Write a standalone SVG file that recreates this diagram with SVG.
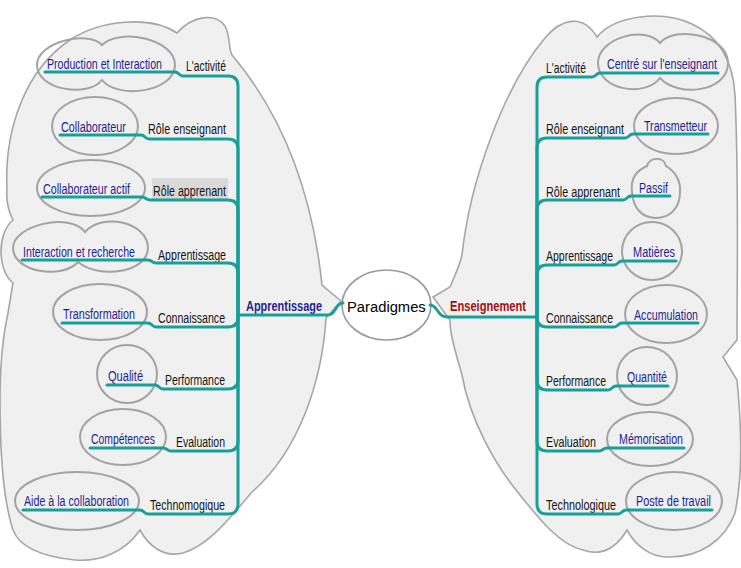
<svg xmlns="http://www.w3.org/2000/svg" width="741" height="568" viewBox="0 0 741 568">
<style>
.cloud{fill:#f0f0f0;stroke:#a6a6a6;stroke-width:1.6}
.bub{fill:none;stroke:#a3a3a3;stroke-width:2}
.ln{fill:none;stroke:#17a09a;stroke-width:3;stroke-linecap:round;stroke-linejoin:round}
text{font-family:"Liberation Sans",Arial,sans-serif;font-size:15px}
.v{fill:#1f1f8f}
.k{fill:#151515}
.hub{font-weight:bold}
</style>
<rect width="741" height="568" fill="#ffffff"/>
<g id="clouds">
<path class="cloud" d="M 7,190 C 4,130 25,70 70,40 C 100,20 150,15 177,33 C 192,16 215,12 225,26 C 231,38 228,48 232,55 C 270,100 310,170 322,285 L 341,301 L 326,318 C 322,380 300,450 252,492 C 232,515 210,545 183,553 C 163,558 148,545 140,530 C 125,552 100,562 75,560 C 45,557 20,548 13,530 C 3,500 0,450 0,400 C 0,370 2,340 8,313 L 13,283 C -3,270 -3,233 13,220 C 8,210 6,200 7,190 Z"/>
<path class="cloud" d="M 462,255 C 470,180 505,85 545,38 C 560,20 582,12 597,37 C 615,15 662,10 692,24 C 718,36 733,60 735,95 C 739,180 737,270 737,340 L 723,357 L 737,380 C 742,430 742,480 735,513 C 725,540 700,558 667,557 C 650,557 635,545 627,530 C 615,550 600,556 583,550 C 560,545 540,520 520,495 C 495,465 470,420 462,375 C 455,350 450,335 450,320 L 433,297 L 450,287 C 455,275 460,265 462,255 Z"/>
</g>
<g id="center">
<ellipse cx="386.5" cy="305" rx="44.5" ry="35" fill="#ffffff" stroke="#9a9a9a" stroke-width="1.6"/>
<text transform="translate(347 312) scale(.75 1)" font-size="20" textLength="105" lengthAdjust="spacingAndGlyphs" fill="#000">Paradigmes</text>
</g>
<g id="hub-apprentissage"><text class="v hub" transform="translate(246 311) scale(.76 1)" font-size="14" textLength="100" lengthAdjust="spacingAndGlyphs">Apprentissage</text></g>
<g id="hub-enseignement"><text class="hub" transform="translate(450 311) scale(.76 1)" font-size="14" fill="#a01010" textLength="100" lengthAdjust="spacingAndGlyphs">Enseignement</text></g>

<!-- Left labels -->
<g id="L1"><text class="k" transform="translate(186 71) scale(.76 1)" textLength="52.6" lengthAdjust="spacingAndGlyphs">L'activité</text></g>
<g id="L2"><text class="k" transform="translate(148 134) scale(.76 1)" textLength="102.6" lengthAdjust="spacingAndGlyphs">Rôle enseignant</text></g>
<g id="L3"><rect x="152" y="178" width="76" height="21" fill="#d9d9d9"/><text class="k" transform="translate(153 196) scale(.76 1)" textLength="96.1" lengthAdjust="spacingAndGlyphs">Rôle apprenant</text></g>
<g id="L4"><text class="k" transform="translate(158 260) scale(.76 1)" textLength="89.5" lengthAdjust="spacingAndGlyphs">Apprentissage</text></g>
<g id="L5"><text class="k" transform="translate(158 323) scale(.76 1)" textLength="88.2" lengthAdjust="spacingAndGlyphs">Connaissance</text></g>
<g id="L6"><text class="k" transform="translate(165 385) scale(.76 1)" textLength="78.9" lengthAdjust="spacingAndGlyphs">Performance</text></g>
<g id="L7"><text class="k" transform="translate(176 447) scale(.76 1)" textLength="64.5" lengthAdjust="spacingAndGlyphs">Evaluation</text></g>
<g id="L8"><text class="k" transform="translate(150 510) scale(.76 1)" textLength="98.7" lengthAdjust="spacingAndGlyphs">Technomogique</text></g>

<!-- Left values -->
<g id="LV1"><path class="bub" d="M 37,65 C 37,42 88,30 102,45 C 118,28 175,38 175,65 C 175,92 118,100 102,80 C 88,98 37,90 37,65 Z"/><text class="v" transform="translate(47 69) scale(.76 1)" textLength="151.3" lengthAdjust="spacingAndGlyphs">Production et Interaction</text></g>
<g id="LV2"><ellipse class="bub" cx="95" cy="126" rx="43" ry="29"/><text class="v" transform="translate(61 132) scale(.76 1)" textLength="85.5" lengthAdjust="spacingAndGlyphs">Collaborateur</text></g>
<g id="LV3"><ellipse class="bub" cx="91" cy="188" rx="54" ry="28"/><text class="v" transform="translate(43 194) scale(.76 1)" textLength="114.5" lengthAdjust="spacingAndGlyphs">Collaborateur actif</text></g>
<g id="LV4"><path class="bub" d="M 13,248 C 13,225 70,212 85,232 C 102,212 148,222 148,248 C 148,272 100,280 78,262 C 62,280 13,272 13,248 Z"/><text class="v" transform="translate(23 257) scale(.76 1)" textLength="147.4" lengthAdjust="spacingAndGlyphs">Interaction et recherche</text></g>
<g id="LV5"><ellipse class="bub" cx="100" cy="312" rx="47" ry="28"/><text class="v" transform="translate(63 319) scale(.76 1)" textLength="94.7" lengthAdjust="spacingAndGlyphs">Transformation</text></g>
<g id="LV6"><ellipse class="bub" cx="127" cy="374" rx="30" ry="29"/><text class="v" transform="translate(108 381) scale(.76 1)" textLength="46.1" lengthAdjust="spacingAndGlyphs">Qualité</text></g>
<g id="LV7"><ellipse class="bub" cx="123" cy="437" rx="43" ry="28"/><text class="v" transform="translate(91 444) scale(.76 1)" textLength="84.2" lengthAdjust="spacingAndGlyphs">Compétences</text></g>
<g id="LV8"><ellipse class="bub" cx="77" cy="501" rx="62" ry="29"/><text class="v" transform="translate(24 506) scale(.76 1)" textLength="138.2" lengthAdjust="spacingAndGlyphs">Aide à la collaboration</text></g>

<!-- Right labels -->
<g id="R1"><text class="k" transform="translate(546 73) scale(.76 1)" textLength="52.6" lengthAdjust="spacingAndGlyphs">L'activité</text></g>
<g id="R2"><text class="k" transform="translate(546 134) scale(.76 1)" textLength="102.6" lengthAdjust="spacingAndGlyphs">Rôle enseignant</text></g>
<g id="R3"><text class="k" transform="translate(546 197) scale(.76 1)" textLength="97.4" lengthAdjust="spacingAndGlyphs">Rôle apprenant</text></g>
<g id="R4"><text class="k" transform="translate(546 261) scale(.76 1)" textLength="88.2" lengthAdjust="spacingAndGlyphs">Apprentissage</text></g>
<g id="R5"><text class="k" transform="translate(546 323) scale(.76 1)" textLength="88.2" lengthAdjust="spacingAndGlyphs">Connaissance</text></g>
<g id="R6"><text class="k" transform="translate(546 386) scale(.76 1)" textLength="78.9" lengthAdjust="spacingAndGlyphs">Performance</text></g>
<g id="R7"><text class="k" transform="translate(546 447) scale(.76 1)" textLength="65.8" lengthAdjust="spacingAndGlyphs">Evaluation</text></g>
<g id="R8"><text class="k" transform="translate(546 510) scale(.76 1)" textLength="92.1" lengthAdjust="spacingAndGlyphs">Technologique</text></g>

<!-- Right values -->
<g id="RV1"><path class="bub" d="M 598,63 C 598,38 645,25 660,43 C 675,25 728,35 728,63 C 728,92 678,98 660,78 C 645,98 598,90 598,63 Z"/><text class="v" transform="translate(607 69) scale(.76 1)" textLength="144.7" lengthAdjust="spacingAndGlyphs">Centré sur l'enseignant</text></g>
<g id="RV2"><ellipse class="bub" cx="676" cy="126" rx="42" ry="28"/><text class="v" transform="translate(644 131) scale(.76 1)" textLength="82.9" lengthAdjust="spacingAndGlyphs">Transmetteur</text></g>
<g id="RV3"><path class="bub" d="M 632,192 C 630,176 640,169 647,166 C 649,157 664,156 666,166 C 676,172 681,182 680,192 C 680,210 668,218 656,218 C 642,218 633,208 632,192 Z"/><text class="v" transform="translate(639 193) scale(.76 1)" textLength="38.2" lengthAdjust="spacingAndGlyphs">Passif</text></g>
<g id="RV4"><ellipse class="bub" cx="652" cy="251" rx="30" ry="29"/><text class="v" transform="translate(633 257) scale(.76 1)" textLength="55.3" lengthAdjust="spacingAndGlyphs">Matières</text></g>
<g id="RV5"><ellipse class="bub" cx="666" cy="314" rx="41" ry="29"/><text class="v" transform="translate(634 320) scale(.76 1)" textLength="84.2" lengthAdjust="spacingAndGlyphs">Accumulation</text></g>
<g id="RV6"><ellipse class="bub" cx="647" cy="376" rx="30" ry="29"/><text class="v" transform="translate(627 382) scale(.76 1)" textLength="52.6" lengthAdjust="spacingAndGlyphs">Quantité</text></g>
<g id="RV7"><ellipse class="bub" cx="650" cy="439" rx="43" ry="27"/><text class="v" transform="translate(619 444) scale(.76 1)" textLength="84.2" lengthAdjust="spacingAndGlyphs">Mémorisation</text></g>
<g id="RV8"><ellipse class="bub" cx="674" cy="501" rx="48" ry="29"/><text class="v" transform="translate(636 506) scale(.76 1)" textLength="98.7" lengthAdjust="spacingAndGlyphs">Poste de travail</text></g>

<g id="connectors">
<path class="ln" d="M 238,315 H 328 C 336,315 335,303 343,303"/>
<path class="ln" d="M 430,305 C 438,305 437,317 447,317 H 537"/>
<path class="ln" d="M 45,72 H 175 C 179,72 179,76 183,76 H 228 Q 238,76 238,86 V 315"/>
<path class="ln" d="M 60,135 H 141 C 145,135 145,139 149,139 H 228 Q 238,139 238,149 V 315"/>
<path class="ln" d="M 42,197 H 142 C 146,197 146,200 150,200 H 228 Q 238,200 238,210 V 315"/>
<path class="ln" d="M 22,260 H 148 C 152,260 152,263 156,263 H 228 Q 238,263 238,273 V 315"/>
<path class="ln" d="M 62,323 H 148 C 152,323 152,327 156,327 H 228 Q 238,327 238,317 V 315"/>
<path class="ln" d="M 107,385 H 155 C 159,385 159,389 163,389 H 228 Q 238,389 238,379 V 315"/>
<path class="ln" d="M 90,448 H 163 C 167,448 167,451 171,451 H 228 Q 238,451 238,441 V 315"/>
<path class="ln" d="M 23,510 H 140 C 144,510 144,514 148,514 H 228 Q 238,514 238,504 V 315"/>
<path class="ln" d="M 718,73 H 600 C 596,73 596,77 592,77 H 547 Q 537,77 537,87 V 317"/>
<path class="ln" d="M 708,134 H 633 C 629,134 629,138 625,138 H 547 Q 537,138 537,148 V 317"/>
<path class="ln" d="M 670,196 H 631 C 627,196 627,200 623,200 H 547 Q 537,200 537,210 V 317"/>
<path class="ln" d="M 676,261 H 622 C 618,261 618,265 614,265 H 547 Q 537,265 537,275 V 317"/>
<path class="ln" d="M 698,323 H 622 C 618,323 618,327 614,327 H 547 Q 537,327 537,317"/>
<path class="ln" d="M 668,386 H 616 C 612,386 612,390 608,390 H 547 Q 537,390 537,380 V 317"/>
<path class="ln" d="M 684,448 H 607 C 603,448 603,451 599,451 H 547 Q 537,451 537,441 V 317"/>
<path class="ln" d="M 712,510 H 626 C 622,510 622,514 618,514 H 547 Q 537,514 537,504 V 317"/>
</g>
</svg>
